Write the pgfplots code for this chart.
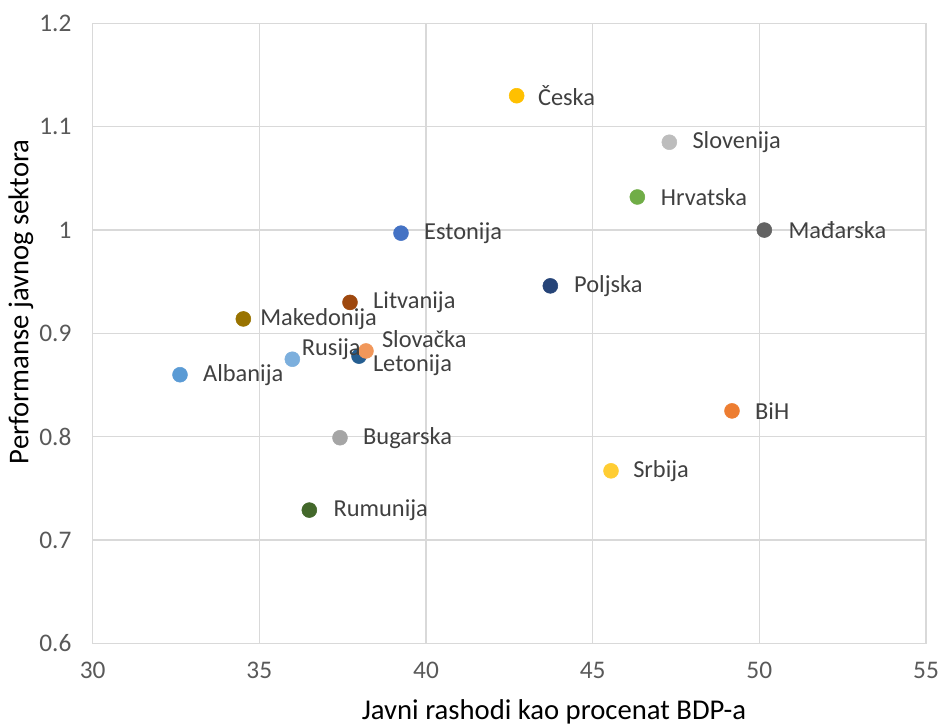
\documentclass[border=0pt]{standalone}
\usepackage{pgfplots}
\pgfplotsset{compat=1.18}
\usepackage{fontspec}
\setmainfont{Carlito}

\definecolor{gridc}{HTML}{D9D9D9}
\definecolor{tickc}{HTML}{595959}
\definecolor{lblc}{HTML}{404040}
\definecolor{cCeska}{HTML}{FFC000}
\definecolor{cSlovenija}{HTML}{BDBDBD}
\definecolor{cHrvatska}{HTML}{70AD47}
\definecolor{cMadjarska}{HTML}{636363}
\definecolor{cEstonija}{HTML}{4472C4}
\definecolor{cPoljska}{HTML}{264478}
\definecolor{cLitvanija}{HTML}{9E480E}
\definecolor{cMakedonija}{HTML}{997300}
\definecolor{cSlovacka}{HTML}{F1975A}
\definecolor{cLetonija}{HTML}{255E91}
\definecolor{cRusija}{HTML}{7CAFDD}
\definecolor{cAlbanija}{HTML}{5B9BD5}
\definecolor{cBiH}{HTML}{ED7D31}
\definecolor{cBugarska}{HTML}{A5A5A5}
\definecolor{cSrbija}{HTML}{FFCD33}
\definecolor{cRumunija}{HTML}{43682B}

% one country: colour, x, y, label, xshift, yshift
\newcommand\country[6]{%
  \addplot[only marks, mark=*, mark size=5.6pt, color=#1,
    nodes near coords={#4},
    nodes near coords style={anchor=west, inner sep=0pt, xshift=#5, yshift=#6,
      text=lblc, font=\fontsize{18.3}{20}\selectfont}]
    coordinates {(#2,#3)};}

\begin{document}
\begin{tikzpicture}
\path[use as bounding box] (-69.5pt,-62.7pt) rectangle (635.5pt,482.55pt);
\begin{axis}[
  at={(0,0)}, anchor=south west,
  scale only axis, width=625pt, height=465pt,
  xmin=30, xmax=55, ymin=0.6, ymax=1.2,
  xtick={30,35,...,55}, ytick={0.6,0.7,...,1.2},
  grid=major, major grid style={gridc, line width=0.9pt},
  axis line style={gridc, line width=0.9pt},
  major tick length=0pt,
  /pgf/number format/assume math mode=true,
  tick label style={font=\fontsize{19}{21}\selectfont, text=tickc},
  yticklabel style={xshift=-12.4pt},
  xticklabel style={yshift=-10.5pt},
  label style={font=\fontsize{21.5}{24}\selectfont, text=black},
  xlabel={Javni rashodi kao procenat BDP-a},
  ylabel={Performanse javnog sektora},
  xlabel style={at={(axis description cs:0.5536,-0.1103)}, anchor=center},
  ylabel style={at={(axis description cs:-0.0861,0.5507)}, anchor=center},
  clip=false,
]
\country{cCeska}{42.72}{1.130}{Česka}{15.8pt}{0pt}
\country{cSlovenija}{47.30}{1.085}{Slovenija}{17.2pt}{0pt}
\country{cHrvatska}{46.34}{1.032}{Hrvatska}{17.5pt}{0pt}
\country{cMadjarska}{50.15}{1.000}{Mađarska}{18pt}{0pt}
\country{cEstonija}{39.25}{0.997}{Estonija}{17.2pt}{0pt}
\country{cPoljska}{43.73}{0.946}{Poljska}{17.7pt}{0pt}
\country{cLitvanija}{37.72}{0.930}{Litvanija}{17.2pt}{0pt}
\country{cMakedonija}{34.52}{0.914}{Makedonija}{12.5pt}{0pt}
\country{cLetonija}{37.99}{0.878}{Letonija}{10.3pt}{-6.8pt}
\country{cSlovacka}{38.20}{0.883}{Slovačka}{11.8pt}{9pt}
\country{cRusija}{35.99}{0.875}{Rusija}{7pt}{7.5pt}
\country{cAlbanija}{32.62}{0.860}{Albanija}{17.2pt}{0pt}
\country{cBiH}{49.18}{0.825}{BiH}{17.2pt}{0pt}
\country{cBugarska}{37.42}{0.799}{Bugarska}{17.2pt}{0pt}
\country{cSrbija}{45.55}{0.767}{Srbija}{16.5pt}{0pt}
\country{cRumunija}{36.50}{0.729}{Rumunija}{18pt}{0pt}
\end{axis}
\end{tikzpicture}
\end{document}
